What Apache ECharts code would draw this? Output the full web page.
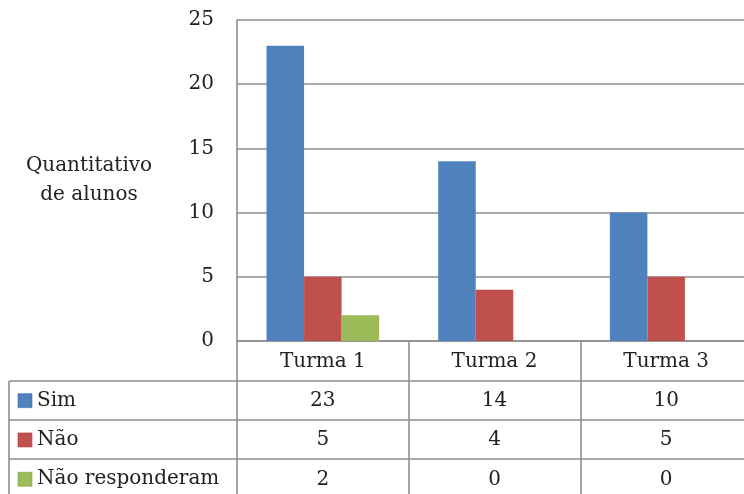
<!DOCTYPE html>
<html>
<head>
<meta charset="utf-8">
<script src="https://cdn.jsdelivr.net/npm/echarts@6/dist/echarts.min.js"></script>
<style>
  html, body { margin: 0; padding: 0; background: #fff; }
  #chart { width: 744px; height: 494px; }
</style>
</head>
<body>
<div id="chart"></div>
<script>
// Survey answers per class
const categories = ['Turma 1', 'Turma 2', 'Turma 3'];
const seriesNames = ['Sim', 'Não', 'Não responderam'];
const sim = [23, 14, 10];
const nao = [5, 4, 5];
const naoResponderam = [2, 0, 0];
const yAxisTitle = ['Quantitativo', 'de alunos'];

const colors = ['#4F81BD', '#C0504D', '#9BBB59'];
const borders = ['#3f6fa6', '#a8403d', '#86a54a'];
const FONT = 'DejaVu Serif';
const FSIZE = 20;
const TEXT = '#222222';
const LINE = '#8e8e8e';

const gridTop = 20, gridLeft = 237, axisY = 341;
const rowH = 39.3;
const rowLines = [381, 420, 459];

const chart = echarts.init(document.getElementById('chart'), null, { renderer: 'canvas' });

const valueRows = [sim, nao, naoResponderam];

const graphics = [];
// table row separators and left border
rowLines.forEach(y => {
  graphics.push({ type: 'line', shape: { x1: 9, y1: y, x2: 744, y2: y },
    style: { stroke: LINE, lineWidth: 1.6 }, silent: true });
});
graphics.push({ type: 'line', shape: { x1: 9, y1: rowLines[0], x2: 9, y2: 494 },
  style: { stroke: LINE, lineWidth: 1.6 }, silent: true });
// legend column of the data table
seriesNames.forEach((name, i) => {
  const cy = rowLines[0] + rowH * (i + 0.5);
  graphics.push({ type: 'rect', shape: { x: 18, y: cy - 7, width: 14, height: 14 },
    style: { fill: colors[i], stroke: borders[i], lineWidth: 0.6 }, silent: true });
  graphics.push({ type: 'text', x: 37, y: cy,
    style: { text: name, font: FSIZE + 'px "' + FONT + '"', fill: TEXT, verticalAlign: 'middle', align: 'left' },
    silent: true });
});
// axis title
graphics.push({ type: 'text', x: 89, y: 180,
  style: { text: yAxisTitle.join('\n'), font: FSIZE + 'px "' + FONT + '"', lineHeight: 29, fill: TEXT,
    align: 'center', verticalAlign: 'middle' }, silent: true });

const barSeries = [sim, nao, naoResponderam].map((data, i) => ({
  name: seriesNames[i],
  type: 'bar',
  data: data,
  barGap: '0%',
  barCategoryGap: '34.4%',
  itemStyle: { color: colors[i], borderWidth: 0 },
  emphasis: { disabled: true },
  animation: false
}));

chart.setOption({
  backgroundColor: '#ffffff',
  animation: false,
  grid: {
    left: gridLeft, top: gridTop, right: -8, bottom: 494 - axisY,
    containLabel: false, outerBoundsMode: 'none'
  },
  xAxis: {
    type: 'category',
    data: categories,
    boundaryGap: true,
    axisLine: { show: true, lineStyle: { color: LINE, width: 1.6 } },
    axisTick: { show: true, length: 160, lineStyle: { color: LINE, width: 1.6 } },
    axisLabel: {
      margin: 1,
      interval: 0,
      fontFamily: FONT,
      fontSize: FSIZE,
      color: TEXT,
      lineHeight: rowH,
      formatter: (value, idx) => [value].concat(valueRows.map(r => String(r[idx]))).join('\n')
    }
  },
  yAxis: {
    type: 'value',
    min: 0,
    max: 25,
    interval: 5,
    axisLine: { show: true, lineStyle: { color: LINE, width: 1.6 } },
    axisTick: { show: false },
    axisLabel: { margin: 23, fontFamily: FONT, fontSize: FSIZE, color: TEXT },
    splitLine: { show: true, lineStyle: { color: LINE, width: 1.6 } }
  },
  series: barSeries,
  graphic: graphics
});
</script>
</body>
</html>
